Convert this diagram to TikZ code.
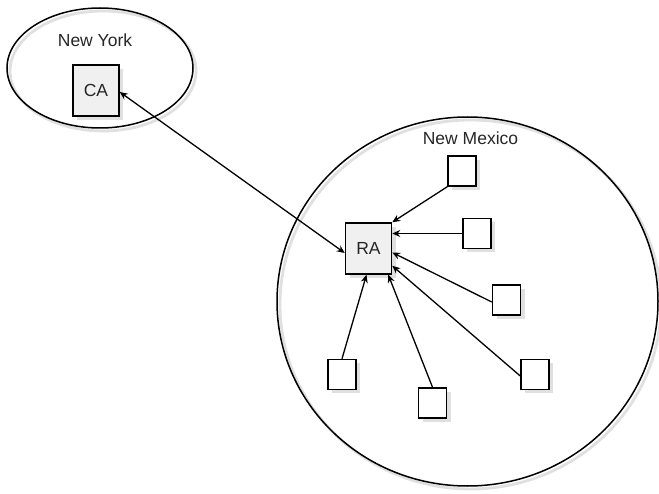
\documentclass[tikz,border=0pt]{standalone}
\usepackage{fontspec}
\setmainfont{Liberation Sans}
\usetikzlibrary{arrows.meta,shadows}
\begin{document}
\begin{tikzpicture}[x=1pt,y=-1pt,
  every node/.style={font=\fontsize{17.5}{20}\selectfont, text=black!85},
  region/.style={draw=black, line width=1.5pt},
  regionshadow/.style={draw=black!12, line width=2.8pt},
  agent/.style={draw=black, line width=1.5pt, fill=black!6, minimum width=46pt, minimum height=51pt, inner sep=0pt,
     drop shadow={shadow xshift=4pt, shadow yshift=-4pt, fill=black!12, opacity=1}},
  leaf/.style={draw=black, line width=1.5pt, fill=white, minimum width=28pt, minimum height=30pt, inner sep=0pt,
     drop shadow={shadow xshift=4pt, shadow yshift=-4pt, fill=black!12, opacity=1}},
  tip/.style={Stealth[length=8pt,width=7pt]},
  link/.style={line width=1.3pt, -{Stealth[length=8pt,width=7pt]}}
]
\useasboundingbox (0,0) rectangle (659,494);

% regions: stroke shadows, then outlines
\draw[regionshadow] (103,71) ellipse [x radius=93, y radius=60];
\draw[regionshadow] (470.5,304.5) ellipse [x radius=190.5, y radius=184.5];
\draw[region] (100,68) ellipse [x radius=93, y radius=60];
\draw[region] (467.5,301.5) ellipse [x radius=190.5, y radius=184.5];
\node (ny) at (95,40) {New York};
\node (nm) at (470.5,138) {New Mexico};

% authorities
\node[agent] (ca) at (96,90.5) {CA};
\node[agent] (ra) at (368.5,248.5) {RA};

% end entities
\node[leaf] (b1) at (462,171) {};
\node[leaf] (b2) at (477,233.5) {};
\node[leaf] (b3) at (506.5,300) {};
\node[leaf] (b4) at (535,374.5) {};
\node[leaf] (b5) at (432.5,403) {};
\node[leaf] (b6) at (342,374.5) {};

% connectors
\draw[link, {Stealth[length=8pt,width=7pt]}-{Stealth[length=8pt,width=7pt]}]
  ([yshift=-1.5pt]ca.east) -- ([yshift=-4.5pt]ra.west);
\draw[link] (b1.south west) -- (ra.north east);
\draw[link] (b2.west) -- (b2.west -| ra.east);
\draw[link] ([yshift=-2pt]b3.west) -- ([yshift=-4pt]ra.east);
\draw[link] ([yshift=-1.5pt]b4.west) -- ([yshift=9pt]ra.south east);
\draw[link] (b5.north) -- ([xshift=-4pt]ra.south east);
\draw[link] (b6.north) -- ([xshift=-2pt]ra.south);
\end{tikzpicture}
\end{document}
